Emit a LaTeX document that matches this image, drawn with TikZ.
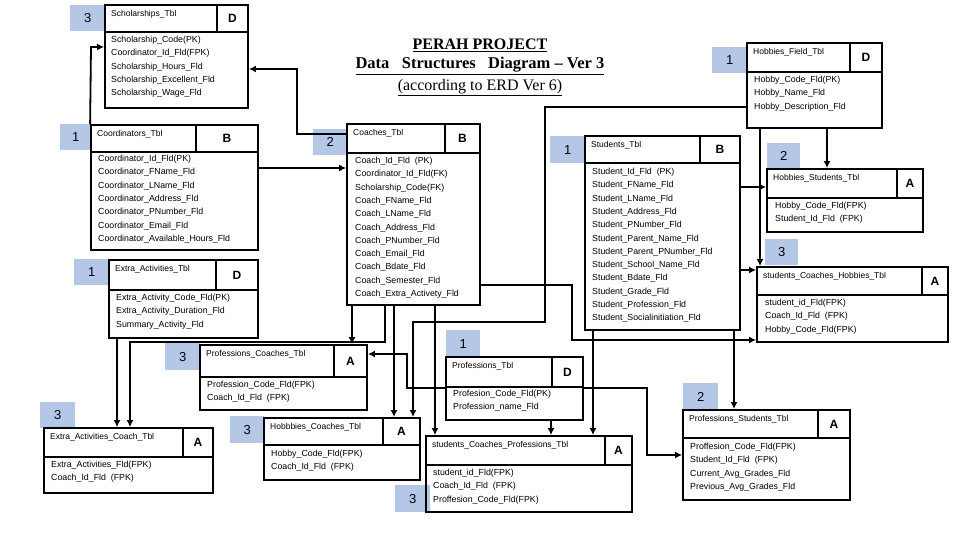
\documentclass[tikz,border=0pt]{standalone}
\usepackage{fontspec}
\setmainfont{Liberation Sans}
\newfontfamily\titlefont{Liberation Serif}
\usetikzlibrary{fit,arrows.meta}
\definecolor{badge}{RGB}{180,199,231}
\tikzset{
  tbl/.style={draw,line width=1.8pt,inner sep=0pt},
  sep/.style={line width=1.8pt},
  ttl/.style={anchor=north west,inner sep=0pt,font=\fontsize{8.5}{10}\selectfont},
  let/.style={inner sep=0pt,font=\fontsize{12}{12}\selectfont\bfseries},
  rows/.style={anchor=north west,inner sep=0pt,align=left,font=\fontsize{8.8}{13.3}\selectfont},
  bdg/.style={fill=badge,anchor=north west,inner sep=0pt,font=\fontsize{13}{13}\selectfont},
  arr/.style={line width=1.8pt,-{Latex[length=7pt,width=7pt]}},
}
% name, x1, y1, x2, y2, header bottom, divider x, title, letter
\newcommand\tb[9]{%
  \node[tbl,fit={(#2,#3)(#4,#5)}] (#1) {};
  \draw[sep] (#2,#6) -- (#4,#6);
  \draw[sep] (#7,#3) -- (#7,#6);
  \node[ttl] (#1-t) at (#2+6,#3+5) {#8};
  \pgfmathsetmacro\lx{(#7+#4)/2}\pgfmathsetmacro\ly{(#3+#6)/2}
  \node[let] (#1-l) at (\lx,\ly) {#9};
}
% name, x, y, w, h, text
\newcommand\bd[6]{\node[bdg,minimum width=#4pt,minimum height=#5pt] (#1) at (#2,#3) {#6};}
\begin{document}
\begin{tikzpicture}[x=1pt,y=-1pt]
\useasboundingbox (0,0) rectangle (960,540);

\node[font=\titlefont\fontsize{16}{16}\selectfont\bfseries] (t1) at (480,45) {\underline{PERAH PROJECT}};
\node[font=\titlefont\fontsize{16.5}{16}\selectfont\bfseries] (t2) at (480,66) {\underline{Data\ \ \ Structures\ \ \ Diagram – Ver 3}};
\node[font=\titlefont\fontsize{16}{16}\selectfont] (t3) at (480,88) {\underline{(according to ERD Ver 6)}};

% Scholarships
\bd{b1}{70}{5}{35}{26}{3}
\tb{sch}{105}{5}{248}{108}{32}{217}{Scholarships\_Tbl}{D}
\node[rows] (sch-r) at (111,36) {Scholarship\_Code(PK)\\Coordinator\_Id\_Fld(FPK)\\Scholarship\_Hours\_Fld\\Scholarship\_Excellent\_Fld\\Scholarship\_Wage\_Fld};

% Coordinators
\bd{b2}{60}{124}{31}{26}{1}
\tb{crd}{91}{125}{258}{250}{152}{196}{Coordinators\_Tbl}{B}
\node[rows] (crd-r) at (98,155) {Coordinator\_Id\_Fld(PK)\\Coordinator\_FName\_Fld\\Coordinator\_LName\_Fld\\Coordinator\_Address\_Fld\\Coordinator\_PNumber\_Fld\\Coordinator\_Email\_Fld\\Coordinator\_Available\_Hours\_Fld};

% Extra activities
\bd{b3}{74}{259}{35}{26}{1}
\tb{ea}{109}{260}{258}{338}{290}{216}{Extra\_Activities\_Tbl}{D}
\node[rows] (ea-r) at (116,294) {Extra\_Activity\_Code\_Fld(PK)\\Extra\_Activity\_Duration\_Fld\\Summary\_Activity\_Fld};

% Coaches
\bd{b4}{313}{129}{34}{26}{2}
\tb{coa}{347}{124}{480}{305}{153}{445}{Coaches\_Tbl}{B}
\node[rows] (coa-r) at (355,157) {Coach\_Id\_Fld\ \ (PK)\\Coordinator\_Id\_Fld(FK)\\Scholarship\_Code(FK)\\Coach\_FName\_Fld\\Coach\_LName\_Fld\\Coach\_Address\_Fld\\Coach\_PNumber\_Fld\\Coach\_Email\_Fld\\Coach\_Bdate\_Fld\\Coach\_Semester\_Fld\\Coach\_Extra\_Activety\_Fld};

% Students
\bd{b5}{550}{136}{35}{27}{1}
\tb{stu}{585}{136}{740}{330}{163}{700}{Students\_Tbl}{B}
\node[rows] (stu-r) at (592,168) {Student\_Id\_Fld\ \ (PK)\\Student\_FName\_Fld\\Student\_LName\_Fld\\Student\_Address\_Fld\\Student\_PNumber\_Fld\\Student\_Parent\_Name\_Fld\\Student\_Parent\_PNumber\_Fld\\Student\_School\_Name\_Fld\\Student\_Bdate\_Fld\\Student\_Grade\_Fld\\Student\_Profession\_Fld\\Student\_Socialinitiation\_Fld};

% Hobbies field
\bd{b6}{712}{47}{35}{26}{1}
\tb{hf}{747}{43}{882}{128}{72}{850}{Hobbies\_Field\_Tbl}{D}
\node[rows] (hf-r) at (754,76) {Hobby\_Code\_Fld(PK)\\Hobby\_Name\_Fld\\Hobby\_Description\_Fld};

% Hobbies students
\bd{b7}{767}{143}{33}{25}{2}
\tb{hs}{767}{169}{923}{232}{198}{897}{Hobbies\_Students\_Tbl}{A}
\node[rows] (hs-r) at (775,202) {Hobby\_Code\_Fld(FPK)\\Student\_Id\_Fld\ \ (FPK)};

% students coaches hobbies
\bd{b8}{765}{239}{33}{26}{3}
\tb{sch2}{757}{267}{948}{342}{295}{922}{students\_Coaches\_Hobbies\_Tbl}{A}
\node[rows] (sch2-r) at (765,299) {student\_id\_Fld(FPK)\\Coach\_Id\_Fld\ \ (FPK)\\Hobby\_Code\_Fld(FPK)};

% Professions coaches
\bd{b9}{165}{343}{35}{27}{3}
\tb{pc}{200}{345}{367}{410}{377}{334}{Professions\_Coaches\_Tbl}{A}
\node[rows] (pc-r) at (207,381) {Profession\_Code\_Fld(FPK)\\Coach\_Id\_Fld\ \ (FPK)};

% Extra activities coach
\bd{b10}{40}{402}{35}{26}{3}
\tb{eac}{44}{428}{213}{493}{457}{183}{Extra\_Activities\_Coach\_Tbl}{A}
\node[rows] (eac-r) at (51,461) {Extra\_Activities\_Fld(FPK)\\Coach\_Id\_Fld\ \ (FPK)};

% Hobbbies coaches
\bd{b11}{230}{416}{34}{27}{3}
\tb{hbc}{264}{418}{420}{480}{445}{383}{Hobbbies\_Coaches\_Tbl}{A}
\node[rows] (hbc-r) at (271,450) {Hobby\_Code\_Fld(FPK)\\Coach\_Id\_Fld\ \ (FPK)};

% Professions
\bd{b12}{446}{330}{34}{27}{1}
\tb{pro}{446}{357}{583}{420}{387}{552}{Professions\_Tbl}{D}
\node[rows] (pro-r) at (453,390) {Profesion\_Code\_Fld(PK)\\Profession\_name\_Fld};

% students coaches professions
\bd{b13}{395}{485}{35}{27}{3}
\tb{scp}{426}{436}{632}{512}{465}{605}{students\_Coaches\_Professions\_Tbl}{A}
\node[rows] (scp-r) at (433,469) {student\_id\_Fld(FPK)\\Coach\_Id\_Fld\ \ (FPK)\\Proffesion\_Code\_Fld(FPK)};

% Professions students
\bd{b14}{683}{383}{35}{27}{2}
\tb{ps}{683}{410}{850}{500}{438}{818}{Professions\_Students\_Tbl}{A}
\node[rows] (ps-r) at (690,443) {Proffesion\_Code\_Fld(FPK)\\Student\_Id\_Fld\ \ (FPK)\\Current\_Avg\_Grades\_Fld\\Previous\_Avg\_Grades\_Fld};

% connectors
\draw[arr] (crd.north west) -- (91,47) -- (sch.west |- 0,47);
\draw[arr] (coa.west |- 0,134) -- (297,134) -- (297,69) -- (sch.east |- 0,69);
\draw[arr] (crd.east |- 0,168) -- (coa.west |- 0,168);
\draw[arr] (hf.west |- 0,107) -- (545,107) -- (545,322) -- (413,322) -- (hbc.north -| 413,0);
\draw[arr] (coa.east |- 0,285) -- (572,285) -- (572,340) -- (sch2.west |- 0,340);
\draw[arr] (stu.east |- 0,187) -- (hs.west |- 0,187);
\draw[arr] (stu.east |- 0,270) -- (sch2.west |- 0,270);
\draw[arr] (hf.south -| 760,0) -- (sch2.north -| 760,0);
\draw[arr] (hf.south -| 827,0) -- (hs.north -| 827,0);
\draw[arr] (stu.south -| 593,0) -- (scp.north -| 593,0);
\draw[arr] (stu.south -| 734,0) -- (ps.north -| 734,0);
\draw[arr] (pro.east |- 0,388) -- (647,388) -- (647,455) -- (ps.west |- 0,455);
\draw[arr] (pro.west |- 0,388) -- (407,388) -- (407,354) -- (pc.east |- 0,354);
\draw[arr] (pro.south -| 551,0) -- (scp.north -| 551,0);
\draw[arr] (coa.south -| 352,0) -- (pc.north -| 352,0);
\draw[arr] (coa.south -| 385,0) -- (385,342) -- (130,342) -- (eac.north -| 130,0);
\draw[arr] (ea.south -| 117,0) -- (eac.north -| 117,0);
\draw[arr] (coa.south -| 394,0) -- (hbc.north -| 394,0);
\draw[arr] (coa.south -| 435,0) -- (scp.north -| 435,0);
\end{tikzpicture}
\end{document}
